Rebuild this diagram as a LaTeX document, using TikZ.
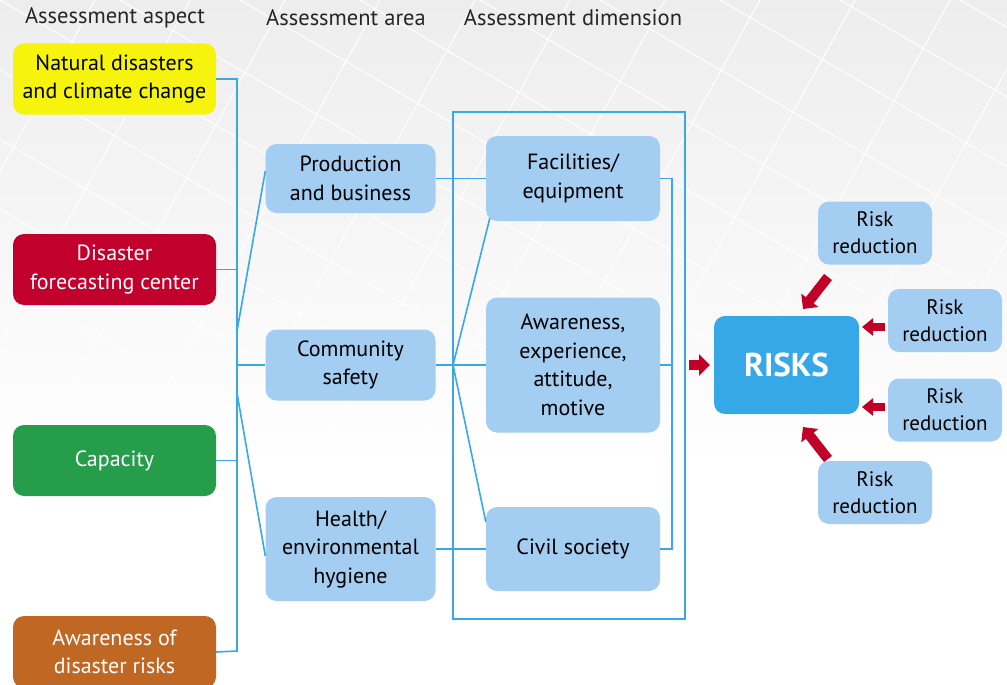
\documentclass[tikz,border=0pt]{standalone}
\usepackage{fontspec}
\setmainfont{PT Sans}
\usetikzlibrary{arrows.meta}
\definecolor{natyellow}{RGB}{246,243,12}
\definecolor{forered}{RGB}{193,0,43}
\definecolor{capgreen}{RGB}{37,157,74}
\definecolor{awrorange}{RGB}{193,103,36}
\definecolor{boxblue}{RGB}{163,205,241}
\definecolor{risksblue}{RGB}{54,168,232}
\definecolor{linkblue}{RGB}{58,167,232}
\definecolor{arrowred}{RGB}{193,0,40}
\begin{document}
\begin{tikzpicture}[x = 1pt, y = -1pt,
        box/.style = {rounded corners = 11pt, align = center, inner sep = 0pt, font = \fontsize{22}{28.5}\selectfont},
        aspect/.style = {box, minimum width = 203pt, minimum height = 71pt},
        area/.style = {box, fill = boxblue, minimum width = 170pt},
        dim/.style = {box, fill = boxblue, minimum width = 174pt},
        reduce/.style = {box, fill = boxblue, minimum width = 114pt, minimum height = 63pt, font = \fontsize{21}{27}\selectfont},
        head/.style = {font = \fontsize{22.5}{26}\selectfont, text = black!85},
        link/.style = {draw = linkblue, line width = 1.6pt},
        bigarrow/.style = {draw = arrowred, line width = 10pt, -{Triangle[length = 11pt, width = 21pt]}},
        smallarrow/.style = {draw = arrowred, line width = 8pt, -{Triangle[length = 11pt, width = 17pt]}}]
    \useasboundingbox (0,0) rectangle (1007,685);
    \begin{scope}
        \clip (0,0) rectangle (1007,685);
        \fill[white] (0,0) rectangle (1007,685);
        \shade[top color = black!7, bottom color = white] (0,0) rectangle (1007,470);
        \begin{scope}[style = {white, line width = 1pt}]
            \foreach \k in {-6,...,12}
                \draw (\k*95,0) -- ++(-260,470);
            \foreach \k in {-6,...,12}
                \draw (\k*120,0) -- ++(620,360);
        \end{scope}
    \end{scope}
    \node[head] (h1) at (115,18) {Assessment aspect};
    \node[head] (h2) at (346,18) {Assessment area};
    \node[head] (h3) at (573,18) {Assessment dimension};
    \node[aspect, fill = natyellow] (nat) at (114.5,79) {Natural disasters\\and climate change};
    \node[aspect, fill = forered, text = white] (fore) at (114.5,269.5) {Disaster\\forecasting center};
    \node[aspect, fill = capgreen, text = white] (cap) at (114.5,460.5) {Capacity};
    \node[aspect, fill = awrorange, text = white, minimum height = 72pt] (awr) at (114.5,652) {Awareness of\\disaster risks};
    \node[area, minimum height = 69pt] (prod) at (350.5,178.5) {Production\\and business};
    \node[area, minimum height = 71pt] (comm) at (350.5,365) {Community\\safety};
    \node[area, minimum height = 104pt] (heal) at (350.5,549) {Health/\\environmental\\hygiene};
    \node[dim, minimum height = 85pt] (fac) at (573,178.5) {Facilities/\\equipment};
    \node[dim, minimum height = 135pt] (awe) at (573,365) {Awareness,\\experience,\\attitude,\\motive};
    \node[dim, minimum height = 84pt] (civ) at (573,549) {Civil society};
    \node[box, fill = risksblue, text = white, minimum width = 145pt, minimum height = 98pt, font = \fontsize{33}{36}\selectfont\bfseries] (risks) at (786.5,365) {RISKS};
    \node[reduce] (rr1) at (875,233) {Risk\\reduction};
    \node[reduce] (rr2) at (945,320.5) {Risk\\reduction};
    \node[reduce] (rr3) at (945,410) {Risk\\reduction};
    \node[reduce] (rr4) at (875,492.5) {Risk\\reduction};
    \coordinate (spine) at (237,651);
    \coordinate (s1) at (237,331);
    \coordinate (s2) at (237,393);
    \coordinate (fork) at (453,365);
    \coordinate (rb) at (672,0);
    \begin{scope}[style = link]
        \draw (nat.east) -| (spine) -- (awr.east);
        \draw (fore.east) -- (fore.east -| spine);
        \draw (cap.east) -- (cap.east -| spine);
        \draw (comm.west -| spine) -- (comm.west);
        \draw (s1) -- ([yshift = 7.5pt]prod.west);
        \draw (s2) -- ([yshift = -7pt]heal.west);
        \draw (prod.east) -- (fac.west);
        \draw (comm.east) -- (awe.west);
        \draw (heal.east) -- (civ.west);
        \draw (fork) -- ([xshift = 4pt, yshift = 3pt]fac.south west);
        \draw (fork) -- ([yshift = 27pt]civ.west);
        \draw (fac.east) -- (fac.east -| rb) -- (civ.east -| rb) -- (civ.east);
        \draw (awe.east) -- (awe.east -| rb);
        \draw[line width = 2pt] (453,112) rectangle (685,619);
    \end{scope}
    \coordinate (a0s) at (689,365);
    \coordinate (a0e) at (710,365);
    \coordinate (a1s) at (828,277);
    \coordinate (a1e) at (803,309);
    \coordinate (a2s) at (885,327);
    \coordinate (a2e) at (862,327);
    \coordinate (a3s) at (885,407);
    \coordinate (a3e) at (862,407);
    \coordinate (a4s) at (828,459);
    \coordinate (a4e) at (803,427);
    \draw[bigarrow] (a0s) -- (a0e);
    \draw[bigarrow] (a1s) -- (a1e);
    \draw[smallarrow] (a2s) -- (a2e);
    \draw[smallarrow] (a3s) -- (a3e);
    \draw[bigarrow] (a4s) -- (a4e);
\end{tikzpicture}
\end{document}
